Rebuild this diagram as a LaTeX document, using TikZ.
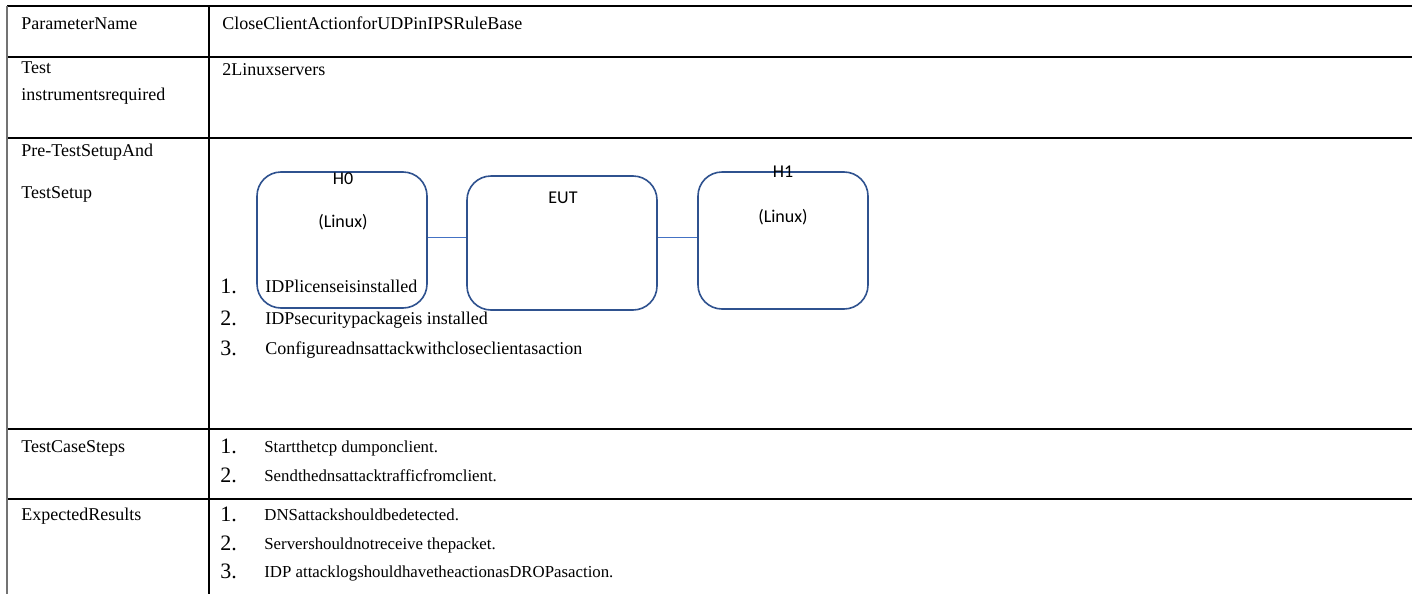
\documentclass[tikz,border=0pt]{standalone}
\usepackage{fontspec}
\setmainfont{Liberation Serif}
\newfontfamily\boxfont{Carlito}
\begin{document}
\begin{tikzpicture}[x=0.5pt,y=-0.5pt,
  grid/.style={draw=black,line width=0.6pt},
  outer/.style={draw=black!55,line width=0.9pt},
  unit/.style={draw={rgb,255:red,47;green,82;blue,143},line width=0.8pt,rounded corners=12pt,inner sep=0pt},
  link/.style={draw={rgb,255:red,68;green,114;blue,196},line width=0.5pt},
  cell/.style={anchor=base west,inner sep=0pt,font=\fontsize{9pt}{11pt}\selectfont},
  num/.style={anchor=base west,inner sep=0pt,font=\fontsize{11pt}{13pt}\selectfont},
  item/.style={anchor=base west,inner sep=0pt,font=\fontsize{8.4pt}{10pt}\selectfont},
  tag/.style={inner sep=0pt,font=\boxfont\fontsize{9pt}{11pt}\selectfont}]
\useasboundingbox (0,0) rectangle (1412,594);
\fill[white] (0,0) rectangle (1412,594);

% table rules
\draw[grid] (7,6) -- (1412,6);
\draw[grid] (7,57) -- (1412,57);
\draw[grid] (7,138) -- (1412,138);
\draw[grid] (7,429) -- (1412,429);
\draw[grid] (7,499) -- (1412,499);
\draw[outer] (7,6) -- (7,594);
\draw[grid] (209,6) -- (209,594);

% left column
\node[cell] (pn) at (21,29) {ParameterName};
\node[cell] (ti1) at (21,73) {Test};
\node[cell] (ti2) at (21,100) {instrumentsrequired};
\node[cell] (pt1) at (21,156) {Pre-TestSetupAnd};
\node[cell] (pt2) at (21,198) {TestSetup};
\node[cell] (tcs) at (21,452) {TestCaseSteps};
\node[cell] (er) at (21,520) {ExpectedResults};

% right column
\node[cell] (pv) at (222,29) {CloseClientActionforUDPinIPSRuleBase};
\node[cell] (tv) at (222,75) {2Linuxservers};

% test setup: hosts and device under test
\node[unit,minimum width=85pt,minimum height=68pt] (h0) at (342,240) {};
\node[unit,minimum width=95pt,minimum height=67pt] (eut) at (562,243) {};
\node[unit,minimum width=85pt,minimum height=68.5pt] (h1) at (783,240.5) {};
\draw[link] (h0.east |- 0,237) -- (eut.west |- 0,237);
\draw[link] (eut.east |- 0,237) -- (h1.west |- 0,237);
\node[tag] (h0a) at (343,179) {H0};
\node[tag] (h0b) at (343,222) {(Linux)};
\node[tag] (euta) at (563,198) {EUT};
\node[tag] (h1a) at (783,172) {H1};
\node[tag] (h1b) at (783,217) {(Linux)};

\node[num] (s1n) at (220,293) {1.};
\node[cell] (s1) at (265,292) {IDPlicenseisinstalled};
\node[num] (s2n) at (220,325) {2.};
\node[cell] (s2) at (265,324) {IDPsecuritypackageis installed};
\node[num] (s3n) at (220,355) {3.};
\node[cell] (s3) at (265,354) {Configureadnsattackwithcloseclientasaction};

% test case steps
\node[num] (c1n) at (220,453) {1.};
\node[item] (c1) at (264,452) {Startthetcp dumponclient.};
\node[num] (c2n) at (220,482) {2.};
\node[item] (c2) at (264,481) {Sendthednsattacktrafficfromclient.};

% expected results
\node[num] (r1n) at (220,521) {1.};
\node[item] (r1) at (264,520) {DNSattackshouldbedetected.};
\node[num] (r2n) at (220,550) {2.};
\node[item] (r2) at (264,549) {Servershouldnotreceive thepacket.};
\node[num] (r3n) at (220,578) {3.};
\node[item] (r3) at (264,577) {IDP attacklogshouldhavetheactionasDROPasaction.};
\end{tikzpicture}
\end{document}
